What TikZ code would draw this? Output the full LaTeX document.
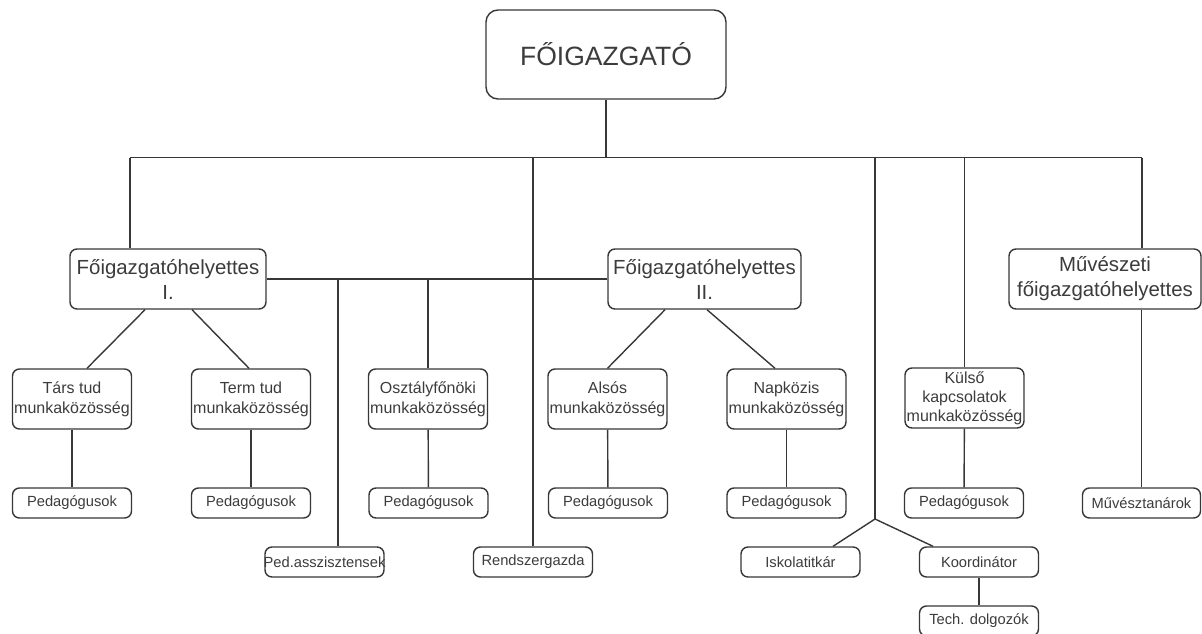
\documentclass[tikz,border=0pt]{standalone}
\usepackage{fontspec}
\setmainfont{Liberation Sans}
\usepackage{tikz}
\usetikzlibrary{positioning}
\definecolor{linegray}{RGB}{55,55,55}
\definecolor{textgray}{RGB}{60,60,60}

\begin{document}
\begin{tikzpicture}[
  x=1pt, y=-1pt,
  box/.style={
    draw=linegray, line width=1.4pt, rounded corners=7pt, fill=white,
    text=textgray, align=center, inner sep=1pt
  },
  chief/.style={box, rounded corners=12pt, minimum width=240pt, minimum height=89pt,
    font=\fontsize{26.5}{30}\selectfont},
  deputy/.style={box, minimum height=60pt, font=\fontsize{20.4}{25}\selectfont},
  group/.style={box, minimum width=119pt, minimum height=60pt, font=\fontsize{16}{20}\selectfont},
  staff/.style={box, minimum width=119pt, minimum height=30pt, font=\fontsize{14.7}{17}\selectfont},
  link/.style={draw=linegray, line width=1.4pt}
]
\useasboundingbox (0,0) rectangle (1202,634);

% top
\node[chief] (chief) at (606,54.5) {FŐIGAZGATÓ};

% deputies
\node[deputy, minimum width=196pt] (dep1) at (168,279) {Főigazgatóhelyettes\\I.};
\node[deputy, minimum width=193pt] (dep2) at (704.5,279) {Főigazgatóhelyettes\\II.};
\node[deputy, minimum width=192pt] (muv) at (1105,279) {Művészeti\\főigazgatóhelyettes};

% work groups
\node[group] (tars) at (72,399) {Társ tud\\munkaközösség};
\node[group] (term) at (251,399) {Term tud\\munkaközösség};
\node[group] (oszt) at (428,399) {Osztályfőnöki\\munkaközösség};
\node[group] (also) at (607.5,399) {Alsós\\munkaközösség};
\node[group] (napk) at (786.5,399) {Napközis\\munkaközösség};
\node[group, font=\fontsize{16}{19}\selectfont] (kulso) at (964.5,398) {Külső\\kapcsolatok\\munkaközösség};

% staff
\node[staff] (ped1) at (72,503) {Pedagógusok};
\node[staff] (ped2) at (251,503) {Pedagógusok};
\node[staff] (ped3) at (428.5,503) {Pedagógusok};
\node[staff] (ped4) at (608,503) {Pedagógusok};
\node[staff] (ped5) at (786.5,503) {Pedagógusok};
\node[staff] (ped6) at (964,503) {Pedagógusok};
\node[staff, minimum width=118pt] (muvt) at (1141.5,503) {Művésztanárok};
\node[staff] (pedassz) at (324.5,562) {\makebox[112pt]{Ped.asszisztensek}};
\node[staff] (rendsz) at (533,562) {Rendszergazda};
\node[staff] (iskola) at (800.5,562) {Iskolatitkár};
\node[staff] (koord) at (979,562) {Koordinátor};
\node[staff] (tech) at (979,621) {Tech. dolgozók};

% joints
\coordinate (busL) at (130,157.5);
\coordinate (busR) at (1142,157.5);
\coordinate (tap) at (338,279);
\coordinate (split) at (875,519);

% main bus
\draw[link] (busL) -- (busR);
\draw[link] (chief.south) -- (chief.south |- busL);
\draw[link] (busL) -- (busL |- dep1.north);
\draw[link] (rendsz.north) -- (rendsz.north |- busL);
\draw[link] (split) -- (split |- busL);
\draw[link] (kulso.north) -- (kulso.north |- busL);
\draw[link] (busR) -- (busR |- muv.north);
\draw[link] (muvt.north |- muv.south) -- (muvt.north);

% deputy line
\draw[link] (dep1.east) -- (dep2.west);
\draw[link] (tap) -- (tap |- pedassz.north);
\draw[link] (oszt.north) -- (oszt.north |- dep1.east);

% branches
\draw[link] ([xshift=-23pt]dep1.south) -- ([xshift=15pt]tars.north);
\draw[link] ([xshift=24pt]dep1.south) -- ([xshift=-2pt]term.north);
\draw[link] ([xshift=-39.5pt]dep2.south) -- (also.north);
\draw[link] ([xshift=2.5pt]dep2.south) -- ([xshift=-11.5pt]napk.north);
\draw[link] (split) -- ([xshift=32.5pt]iskola.north);
\draw[link] (split) -- ([xshift=-46pt]koord.north);

% groups to staff
\draw[link] (tars) -- (ped1);
\draw[link] (term) -- (ped2);
\draw[link] (oszt) -- (ped3);
\draw[link] (also) -- (ped4);
\draw[link] (napk) -- (ped5);
\draw[link] (kulso) -- (ped6);
\draw[link] (koord) -- (tech);
\end{tikzpicture}
\end{document}
